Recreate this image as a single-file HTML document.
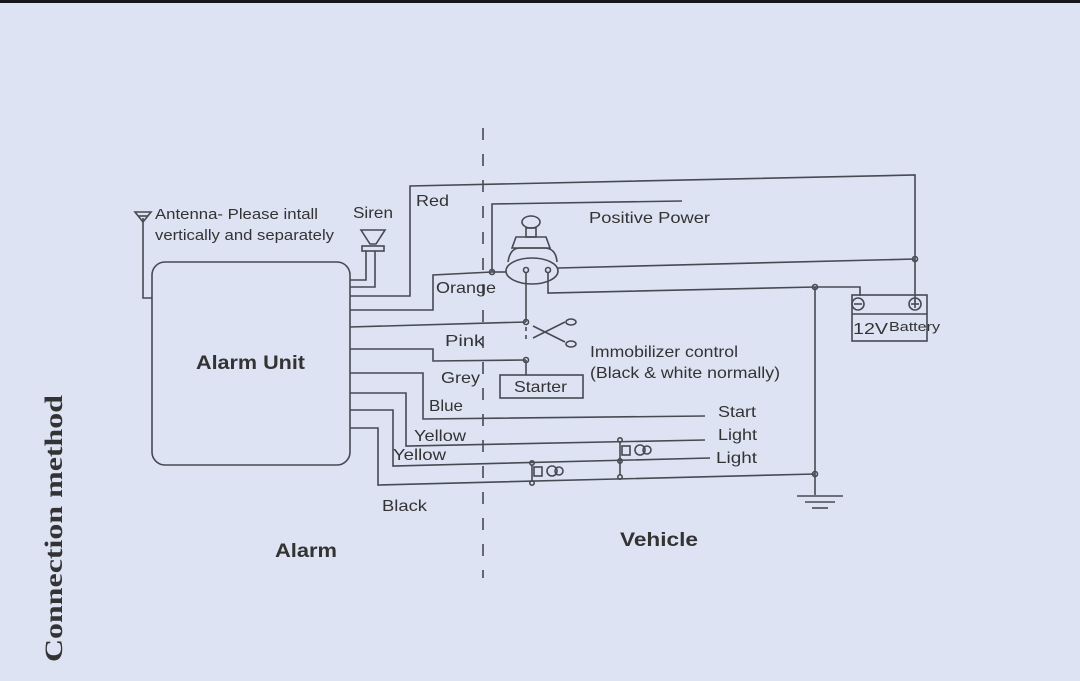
<!DOCTYPE html>
<html><head><meta charset="utf-8"><style>
html,body{margin:0;padding:0;width:1080px;height:681px;overflow:hidden;background:#dde3f3}
svg{display:block}
text{font-family:"Liberation Sans",sans-serif;fill:#333}
</style></head><body>
<svg width="1080" height="681" viewBox="0 0 1080 681">
<rect x="0" y="0" width="1080" height="681" fill="#dde3f3"/>
<rect x="0" y="0" width="1080" height="3" fill="#15171d"/>
<g stroke="#474a52" stroke-width="1.6" fill="none">
<line x1="483" y1="128" x2="483" y2="578" stroke-dasharray="12,14"/>
<rect x="152" y="262" width="198" height="203" rx="13"/>
<polyline points="152,298 143,298 143,218"/>
<polygon points="135,212 151,212 143,222"/>
<line x1="138" y1="216" x2="148" y2="216"/>
<polygon points="361,230 385,230 376,244 370,244"/>
<rect x="362" y="246" width="22" height="5"/>
<polyline points="350,280 366,280 366,251"/>
<polyline points="350,287 375,287 375,251"/>
<polyline points="350,296 410,296 410,186 915,175 915,302"/>
<polyline points="350,310 433,310 433,275 492,272"/>
<polyline points="492,272 492,204 682,201"/>
<circle cx="492" cy="272" r="2.5"/>
<ellipse cx="531" cy="222" rx="9" ry="6"/>
<rect x="526" y="228" width="10" height="9"/>
<polygon points="516,237 546,237 550,248 512,248"/>
<path d="M508 262 Q510 248 520 248 L544 248 Q556 248 557 262"/>
<ellipse cx="532" cy="271" rx="26" ry="13"/>
<circle cx="526" cy="270" r="2.5"/><circle cx="548" cy="270" r="2.5"/>
<line x1="492" y1="272" x2="506" y2="272"/>
<polyline points="558,268 915,259"/>
<circle cx="915" cy="259" r="2.5"/>
<polyline points="548,272 548,293 815,287 860,287 860,296"/>
<circle cx="815" cy="287" r="2.5"/>
<line x1="526" y1="272" x2="526" y2="322"/>
<circle cx="526" cy="322" r="2.5"/>
<line x1="526" y1="327" x2="526" y2="340" stroke-dasharray="4,4"/>
<circle cx="526" cy="360" r="2.5"/>
<line x1="526" y1="360" x2="526" y2="375"/>
<line x1="533" y1="338" x2="565" y2="322"/>
<line x1="533" y1="326" x2="565" y2="342"/>
<ellipse cx="571" cy="322" rx="5" ry="3"/>
<ellipse cx="571" cy="344" rx="5" ry="3"/>
<polyline points="350,327 526,322"/>
<polyline points="350,349 433,349 433,361 526,360"/>
<rect x="500" y="375" width="83" height="23"/>
<polyline points="350,373 423,373 423,419 705,416"/>
<polyline points="350,393 406,393 406,446 705,440"/>
<polyline points="350,410 393,410 393,466 710,458"/>
<polyline points="350,428 378,428 378,485 815,474"/>
<line x1="815" y1="287" x2="815" y2="495"/>
<circle cx="815" cy="474" r="2.5"/>
<line x1="797" y1="496" x2="843" y2="496"/>
<line x1="805" y1="502" x2="835" y2="502"/>
<line x1="812" y1="508" x2="828" y2="508"/>
<circle cx="532" cy="463" r="2.2"/><circle cx="532" cy="483" r="2.2"/>
<line x1="532" y1="465" x2="532" y2="481"/>
<rect x="534" y="467" width="8" height="9"/><circle cx="552" cy="471" r="5"/><circle cx="559" cy="471" r="4"/>
<circle cx="620" cy="440" r="2.2"/><circle cx="620" cy="461" r="2.2"/><circle cx="620" cy="477" r="2.2"/>
<line x1="620" y1="442" x2="620" y2="475"/>
<rect x="622" y="446" width="8" height="9"/><circle cx="640" cy="450" r="5"/><circle cx="647" cy="450" r="4"/>
<rect x="852" y="295" width="75" height="46"/>
<line x1="852" y1="314" x2="927" y2="314"/>
<circle cx="858" cy="304" r="6"/><line x1="854" y1="304" x2="862" y2="304"/>
<circle cx="915" cy="304" r="6"/><line x1="911" y1="304" x2="919" y2="304"/><line x1="915" y1="300" x2="915" y2="308"/>
</g>
<g lengthAdjust="spacingAndGlyphs">
<text x="155" y="219" font-size="15" textLength="163" lengthAdjust="spacingAndGlyphs">Antenna- Please intall</text>
<text x="155" y="240" font-size="15" textLength="179" lengthAdjust="spacingAndGlyphs">vertically and separately</text>
<text x="353" y="218" font-size="16" textLength="40" lengthAdjust="spacingAndGlyphs">Siren</text>
<text x="416" y="206" font-size="16" textLength="33" lengthAdjust="spacingAndGlyphs">Red</text>
<text x="436" y="293" font-size="16" textLength="60" lengthAdjust="spacingAndGlyphs">Orange</text>
<text x="445" y="346" font-size="16" textLength="39" lengthAdjust="spacingAndGlyphs">Pink</text>
<text x="441" y="383" font-size="16" textLength="39" lengthAdjust="spacingAndGlyphs">Grey</text>
<text x="429" y="411" font-size="16" textLength="34" lengthAdjust="spacingAndGlyphs">Blue</text>
<text x="414" y="441" font-size="16" textLength="52" lengthAdjust="spacingAndGlyphs">Yellow</text>
<text x="393" y="460" font-size="16" textLength="53" lengthAdjust="spacingAndGlyphs">Yellow</text>
<text x="382" y="511" font-size="16" textLength="45" lengthAdjust="spacingAndGlyphs">Black</text>
<text x="514" y="392" font-size="16" textLength="53" lengthAdjust="spacingAndGlyphs">Starter</text>
<text x="589" y="223" font-size="16" textLength="121" lengthAdjust="spacingAndGlyphs">Positive Power</text>
<text x="590" y="357" font-size="16" textLength="148" lengthAdjust="spacingAndGlyphs">Immobilizer control</text>
<text x="590" y="378" font-size="16" textLength="190" lengthAdjust="spacingAndGlyphs">(Black &amp; white normally)</text>
<text x="718" y="417" font-size="16" textLength="38" lengthAdjust="spacingAndGlyphs">Start</text>
<text x="718" y="440" font-size="16" textLength="39" lengthAdjust="spacingAndGlyphs">Light</text>
<text x="716" y="463" font-size="16" textLength="41" lengthAdjust="spacingAndGlyphs">Light</text>
<text x="853" y="334" font-size="16" textLength="35" lengthAdjust="spacingAndGlyphs">12V</text>
<text x="889" y="331" font-size="13" textLength="51" lengthAdjust="spacingAndGlyphs">Battery</text>
<text x="196" y="369" font-size="19" font-weight="bold" textLength="109" lengthAdjust="spacingAndGlyphs">Alarm Unit</text>
<text x="275" y="557" font-size="19" font-weight="bold" textLength="62" lengthAdjust="spacingAndGlyphs">Alarm</text>
<text x="620" y="546" font-size="19" font-weight="bold" textLength="78" lengthAdjust="spacingAndGlyphs">Vehicle</text>
<text transform="translate(62,662) rotate(-90)" font-size="25" font-weight="bold" textLength="267" lengthAdjust="spacingAndGlyphs" style="font-family:'Liberation Serif',serif">Connection method</text>
</g>
</svg>
</body></html>
